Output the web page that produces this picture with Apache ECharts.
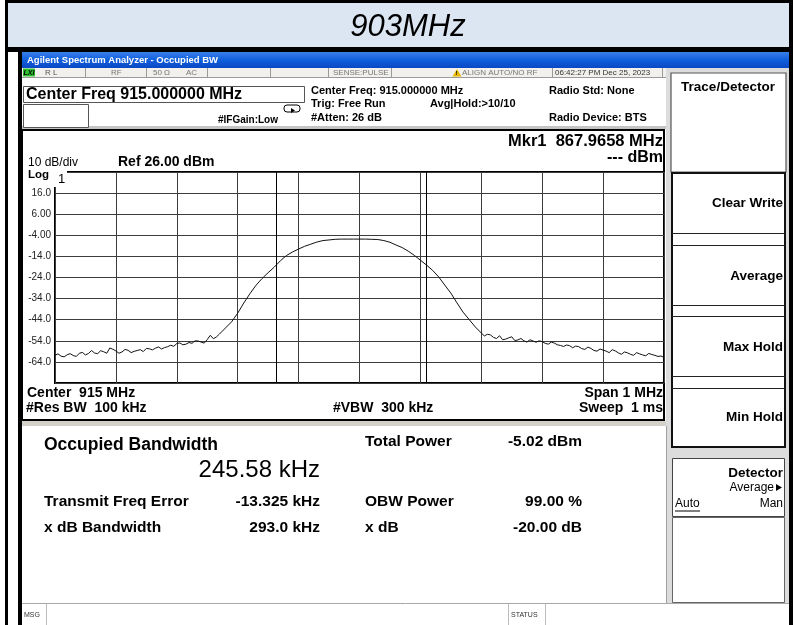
<!DOCTYPE html>
<html><head><meta charset="utf-8">
<script src="https://cdn.jsdelivr.net/npm/echarts/dist/echarts.min.js"></script>
<style>html,body{margin:0;padding:0;background:#fff}#c{width:793px;height:625px}</style>
</head><body><div id="c"></div>
<script>
// ---- data (frequency offset from 915 MHz centre, kHz) ----
const freqOffsetKHz = [
  -500,-495,-490,-485,-480,-475,-470,-465,-460,-455,
  -450,-445,-440,-435,-430,-425,-420,-415,-410,-405,
  -400,-395,-390,-385,-380,-375,-370,-365,-360,-355,
  -350,-345,-340,-335,-330,-325,-320,-315,-310,-305,
  -300,-295,-290,-285,-280,-275,-270,-265,-260,-255,
  -250,-245,-240,-235,-230,
  -220,-210,-200,-190,-180,-170,-160,-150,-140,-130,
  -120,-110,-100,-90,-80,-70,-60,-50,-40,-30,
  -20,-10,0,10,20,30,40,50,60,70,
  80,90,100,110,120,130,140,150,160,170,
  180,190,
  200,205,210,215,220,225,230,235,240,245,
  250,255,260,265,270,275,280,285,290,295,
  300,305,310,315,320,325,330,335,340,345,
  350,355,360,365,370,375,380,385,390,395,
  400,405,410,415,420,425,430,435,440,445,
  450,455,460,465,470,475,480,485,490,495,
  500];
const traceDbm = [
  -60.8,-60.2,-61.3,-61.6,-60.6,-60.1,-61.0,-61.4,-59.9,-59.5,
  -60.7,-60.0,-58.6,-59.8,-60.1,-58.7,-59.2,-59.9,-57.4,-58.0,
  -58.8,-59.9,-59.3,-58.1,-58.5,-59.6,-59.0,-58.6,-58.2,-59.1,
  -57.6,-57.8,-58.3,-57.5,-56.9,-57.9,-57.2,-56.8,-56.1,-56.6,
  -55.3,-55.0,-55.9,-55.6,-54.8,-55.2,-54.0,-54.1,-54.6,-55.1,
  -53.4,-51.4,-53.0,-52.2,-50.8,
  -47.9,-45.0,-40.9,-36.1,-31.7,-27.7,-24.5,-21.7,-19.1,-16.1,
  -13.6,-11.9,-10.5,-9.2,-8.2,-7.2,-6.5,-6.2,-5.9,-5.8,
  -5.8,-5.8,-5.8,-5.8,-5.9,-6.0,-6.5,-7.3,-8.6,-9.8,
  -11.5,-13.5,-15.8,-18.1,-20.6,-23.7,-27.6,-31.4,-36.0,-40.4,
  -43.9,-47.4,
  -50.3,-51.7,-50.9,-51.2,-52.4,-52.9,-51.6,-53.5,-53.2,-52.6,
  -52.1,-53.9,-53.6,-52.9,-54.0,-54.6,-53.5,-54.1,-54.7,-54.0,
  -54.4,-55.2,-55.6,-54.6,-55.1,-55.9,-56.2,-56.7,-56.0,-56.3,
  -57.3,-56.5,-56.8,-57.7,-58.1,-57.0,-57.6,-58.6,-58.9,-57.9,
  -58.4,-58.9,-59.6,-58.2,-58.8,-59.7,-60.4,-59.3,-59.7,-60.4,
  -60.9,-59.6,-60.2,-60.7,-61.1,-60.0,-60.5,-60.9,-61.4,-61.2,
  -61.9];
const obwEdgeKHz = [-136.1, 109.5];
const yTickValues = [16, 6, -4, -14, -24, -34, -44, -54, -64];
const yTickLabels = ['16.0', '6.00', '-4.00', '-14.0', '-24.0', '-34.0', '-44.0', '-54.0', '-64.0'];

// ---- helpers for the surrounding analyzer screen ----
const FF = '"Liberation Sans", Arial, sans-serif';
function R(x, y, w, h, fill, stroke, lw, z) {
  return {type: 'rect', silent: true, z: z == null ? 1 : z, shape: {x: x, y: y, width: w, height: h},
    style: {fill: fill || 'none', stroke: stroke || null, lineWidth: lw || 0}};
}
function L(x1, y1, x2, y2, color, lw, z) {
  return {type: 'line', silent: true, z: z == null ? 2 : z, shape: {x1: x1, y1: y1, x2: x2, y2: y2},
    style: {stroke: color, lineWidth: lw || 1}};
}
function T(x, y, text, font, fill, align, z) {
  return {type: 'text', silent: true, z: z == null ? 20 : z, x: x, y: y,
    style: {text: text, font: font + ' ' + FF, fill: fill || '#000', align: align || 'left', verticalAlign: 'middle'}};
}
function P(points, fill, z) {
  return {type: 'polygon', silent: true, z: z == null ? 20 : z, shape: {points: points}, style: {fill: fill}};
}

const g = [];
// page frame
g.push(R(0, 0, 793, 625, '#ffffff', null, 0, 0));
g.push(R(8, 3, 781, 45, '#dce6f2'));
g.push(R(6, 0, 787, 3, '#000'));
g.push(R(5, 0, 3, 625, '#000'));
g.push(R(6, 47, 787, 5, '#000'));
g.push(R(789, 0, 4, 625, '#000'));
g.push(T(408, 27, '903MHz', 'italic 31px', '#000', 'center'));
g.push(R(18, 50, 4, 575, '#000'));

// window title bar
g.push({type: 'rect', silent: true, z: 1, shape: {x: 22, y: 52, width: 767, height: 16},
  style: {fill: {type: 'linear', x: 0, y: 0, x2: 0, y2: 1, colorStops: [{offset: 0, color: '#3a7fea'}, {offset: 0.5, color: '#0f5fdc'}, {offset: 1, color: '#0a48c4'}]}}});
g.push(T(27, 60.5, 'Agilent Spectrum Analyzer - Occupied BW', 'bold 9.5px', '#ffffff'));

// status row
g.push(R(22, 68, 644, 9, '#f1f0ec'));
g.push(L(22, 77.5, 666, 77.5, '#9a9a9a', 1));
[85.5, 146.5, 207.5, 270.5, 328.5, 391.5, 552.5, 662.5].forEach(function (x) { g.push(L(x, 68, x, 77, '#9a9a9a', 1)); });
g.push(R(23, 68.5, 12, 8, '#2fc02f', null, 0, 3));
g.push(T(23.5, 72.8, 'LXI', 'bold italic 7px', '#000'));
g.push(T(45, 72.8, 'R L', '8px', '#555'));
g.push(T(111, 72.8, 'RF', '8px', '#777'));
g.push(T(153, 72.8, '50 Ω', '8px', '#777'));
g.push(T(186, 72.8, 'AC', '8px', '#777'));
g.push(T(333, 72.8, 'SENSE:PULSE', '8px', '#777'));
g.push(P([[457, 69], [452.5, 76.5], [461.5, 76.5]], '#e8b800'));
g.push(T(455.6, 73.5, '!', 'bold 6px', '#000'));
g.push(T(462, 72.8, 'ALIGN AUTO/NO RF', '8px', '#777'));
g.push(T(555, 72.8, '06:42:27 PM Dec 25, 2023', '8px', '#333'));

// info area
g.push(R(22, 78, 644, 50, '#ffffff'));
g.push(R(23.5, 86.5, 281, 16, '#ffffff', '#555', 1, 2));
g.push(T(26, 94.5, 'Center Freq 915.000000 MHz', 'bold 16px'));
g.push(R(23.5, 104.5, 65, 23, '#ffffff', '#555', 1, 2));
g.push({type: 'rect', silent: true, z: 3, shape: {x: 284, y: 105, width: 16, height: 7, r: 3}, style: {fill: 'none', stroke: '#000', lineWidth: 1}});
g.push(P([[291, 108], [291, 113], [295, 110.5]], '#000'));
g.push(T(218, 120, '#IFGain:Low', 'bold 10px'));
g.push(T(311, 91, 'Center Freq: 915.000000 MHz', 'bold 11px'));
g.push(T(311, 104, 'Trig: Free Run', 'bold 11px'));
g.push(T(311, 117.5, '#Atten: 26 dB', 'bold 11px'));
g.push(T(430, 104, 'Avg|Hold:>10/10', 'bold 11px'));
g.push(T(549, 91, 'Radio Std: None', 'bold 11px'));
g.push(T(549, 117.5, 'Radio Device: BTS', 'bold 11px'));
g.push(R(22, 126, 644, 3, '#c4c4c4'));

// plot panel
g.push(R(22, 130, 642, 290, '#ffffff', '#000', 2, 1));
g.push(T(663, 141, 'Mkr1  867.9658 MHz', 'bold 16.5px', '#000', 'right'));
g.push(T(663, 158, '--- dBm', 'bold 16px', '#000', 'right'));
g.push(T(28, 163, '10 dB/div', '12px'));
g.push(T(118, 162, 'Ref 26.00 dBm', 'bold 14px'));
g.push(T(28, 175, 'Log', 'bold 11.5px'));
g.push(R(53, 169, 14, 18, '#ffffff', null, 0, 8));
g.push(T(58, 179, '1', '13px'));
g.push(T(27, 393.5, 'Center  915 MHz', 'bold 14px'));
g.push(T(26, 408.5, '#Res BW  100 kHz', 'bold 14px'));
g.push(T(333, 408.5, '#VBW  300 kHz', 'bold 14px'));
g.push(T(663, 393.5, 'Span 1 MHz', 'bold 14px', '#000', 'right'));
g.push(T(663, 408.5, 'Sweep  1 ms', 'bold 14px', '#000', 'right'));

// measurement area
g.push(R(22, 421, 645, 5, '#d4d1cb'));
g.push(R(22, 426, 645, 177, '#ffffff'));
g.push(L(666.5, 426, 666.5, 603, '#a0a0a0', 1));
g.push(T(44, 445, 'Occupied Bandwidth', 'bold 17.5px'));
g.push(T(320, 470, '245.58 kHz', '24px', '#000', 'right'));
g.push(T(44, 502, 'Transmit Freq Error', 'bold 15.5px'));
g.push(T(320, 502, '-13.325 kHz', 'bold 15.5px', '#000', 'right'));
g.push(T(44, 528, 'x dB Bandwidth', 'bold 15.5px'));
g.push(T(320, 528, '293.0 kHz', 'bold 15.5px', '#000', 'right'));
g.push(T(365, 442, 'Total Power', 'bold 15.5px'));
g.push(T(582, 442, '-5.02 dBm', 'bold 15.5px', '#000', 'right'));
g.push(T(365, 502, 'OBW Power', 'bold 15.5px'));
g.push(T(582, 502, '99.00 %', 'bold 15.5px', '#000', 'right'));
g.push(T(365, 528, 'x dB', 'bold 15.5px'));
g.push(T(582, 528, '-20.00 dB', 'bold 15.5px', '#000', 'right'));

// bottom status bar
g.push(R(22, 603, 767, 22, '#ffffff'));
g.push(L(22, 603.5, 789, 603.5, '#a8a8a8', 1));
g.push(L(46.5, 604, 46.5, 625, '#bdbdbd', 1));
g.push(L(508.5, 604, 508.5, 625, '#bdbdbd', 1));
g.push(L(545.5, 604, 545.5, 625, '#bdbdbd', 1));
g.push(T(24, 615.5, 'MSG', '7px', '#333'));
g.push(T(511, 615.5, 'STATUS', '7px', '#333'));

// softkey column
g.push(R(666, 68, 123, 535, '#dcdcdc'));
g.push(R(671, 73, 115, 99, '#ffffff', '#555', 1.2, 2));
g.push(T(728, 87, 'Trace/Detector', 'bold 13.5px', '#000', 'center'));
g.push(R(672, 173, 113, 274, '#ffffff', '#111', 2, 2));
[233.5, 245.5, 305.5, 316.5, 376.5, 388.5].forEach(function (y) { g.push(L(672, y, 785, y, '#222', 1.2, 3)); });
g.push(T(783, 203, 'Clear Write', 'bold 13.5px', '#000', 'right'));
g.push(T(783, 276, 'Average', 'bold 13.5px', '#000', 'right'));
g.push(T(783, 347, 'Max Hold', 'bold 13.5px', '#000', 'right'));
g.push(T(783, 417, 'Min Hold', 'bold 13.5px', '#000', 'right'));
g.push(R(672.5, 458.5, 112, 58, '#ffffff', '#444', 1, 2));
g.push(R(672.5, 517.5, 112, 85, '#ffffff', '#666', 1, 2));
g.push(T(783, 473, 'Detector', 'bold 13.5px', '#000', 'right'));
g.push(T(774, 488, 'Average', '12px', '#000', 'right'));
g.push(P([[776, 484], [776, 491], [782, 487.5]], '#000'));
g.push(T(675, 504, 'Auto', '12px'));
g.push(L(675, 511, 700, 511, '#000', 1, 20));
g.push(T(783, 504, 'Man', '12px', '#000', 'right'));

const chart = echarts.init(document.getElementById('c'), null, {renderer: 'canvas'});
chart.setOption({
  animation: false,
  backgroundColor: '#ffffff',
  graphic: {elements: g},
  grid: {left: 55, top: 172, width: 609, height: 211, show: true, borderColor: '#000', borderWidth: 2, backgroundColor: 'transparent', z: 5},
  xAxis: {
    type: 'value', min: -500, max: 500, interval: 100, z: 5,
    axisLabel: {show: false}, axisTick: {show: false}, axisLine: {show: false},
    splitLine: {show: true, lineStyle: {color: '#3c3c3c', width: 1}}
  },
  yAxis: {
    type: 'value', min: -74, max: 26, interval: 10, z: 5,
    axisTick: {show: false}, axisLine: {show: false},
    splitLine: {show: true, lineStyle: {color: '#3c3c3c', width: 1}},
    axisLabel: {
      margin: 4, color: '#222', fontSize: 10, fontFamily: FF,
      formatter: function (v) {
        for (let i = 0; i < yTickValues.length; i++) { if (Math.abs(yTickValues[i] - v) < 1e-6) return yTickLabels[i]; }
        return '';
      }
    }
  },
  series: [{
    type: 'line', z: 6, showSymbol: false, symbol: 'none', silent: true,
    lineStyle: {color: '#111', width: 1},
    data: freqOffsetKHz.map(function (f, i) { return [f, traceDbm[i]]; }),
    markLine: {
      symbol: 'none', silent: true, animation: false, label: {show: false},
      lineStyle: {color: '#000', type: 'solid', width: 1},
      data: obwEdgeKHz.map(function (x) { return {xAxis: x}; })
    }
  }]
});
</script>
</body></html>
